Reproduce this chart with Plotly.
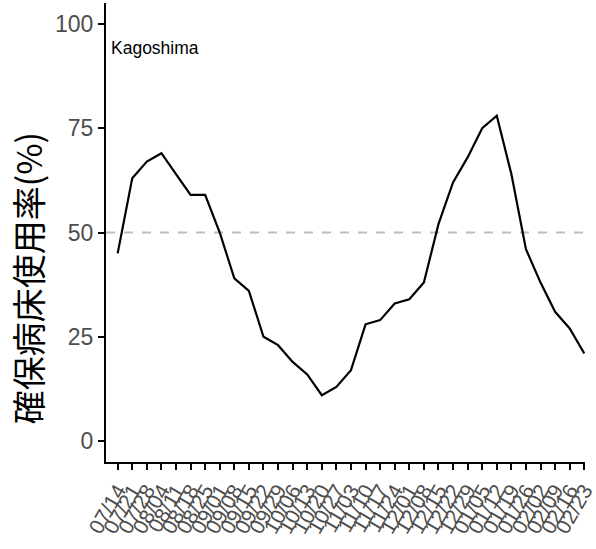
import plotly.graph_objects as go
import datetime as dt

start = dt.date(2021, 7, 14)
dates = [start + dt.timedelta(days=7 * i) for i in range(33)]
date_labels = [d.strftime("%m/%d") for d in dates]
rate = [45, 63, 67, 69, 64, 59, 59, 50, 39, 36, 25, 23, 19, 16, 11, 13, 17,
        28, 29, 33, 34, 38, 52, 62, 68, 75, 78, 64, 46, 38, 31, 27, 21]
y_ticks = [0, 25, 50, 75, 100]
region = "Kagoshima"
threshold = 50
y_title = "確保病床使用率(%)"

xpos = list(range(len(rate)))

fig = go.Figure()
fig.add_trace(go.Scatter(x=xpos, y=rate, mode="lines",
                         line=dict(color="black", width=2.2), showlegend=False,
                         cliponaxis=False))
fig.add_shape(type="line", xref="paper", x0=0, x1=1, yref="y", y0=threshold, y1=threshold,
              line=dict(color="#bdbdbd", width=2, dash="dash"), layer="below")
fig.add_annotation(xref="paper", x=0, y=94.3, text=region, showarrow=False,
                   xanchor="left", xshift=3, font=dict(size=17.5, color="black"))
fig.add_annotation(xref="paper", yref="paper", x=-0.165, y=0.40, text=y_title,
                   showarrow=False, textangle=-90, xanchor="center", yanchor="middle",
                   font=dict(size=34, color="black", family="Noto Sans CJK JP"))

fig.update_layout(
    width=596, height=549,
    margin=dict(l=106, r=11, t=3, b=87),
    plot_bgcolor="white", paper_bgcolor="white",
    font=dict(family="Liberation Sans, Arial, Noto Sans CJK JP"),
)
fig.update_xaxes(range=[-0.8, 32.05], tickvals=xpos, ticktext=date_labels,
                 tickangle=-60, tickfont=dict(size=21, color="#4d4d4d"),
                 ticklabeloverflow="allow",
                 ticks="outside", ticklen=6, tickwidth=1.5, tickcolor="black",
                 showline=True, linecolor="black", linewidth=2,
                 showgrid=False, zeroline=False, automargin=False)
fig.update_yaxes(range=[-5, 105], tickvals=y_ticks,
                 tickfont=dict(size=23, color="#4d4d4d"),
                 ticks="outside", ticklen=6, tickwidth=1.5, tickcolor="black",
                 showline=True, linecolor="black", linewidth=2,
                 showgrid=False, zeroline=False, automargin=False)

fig.write_html("out.html", config={"displayModeBar": False},
               post_script="document.body.style.margin='0';")
